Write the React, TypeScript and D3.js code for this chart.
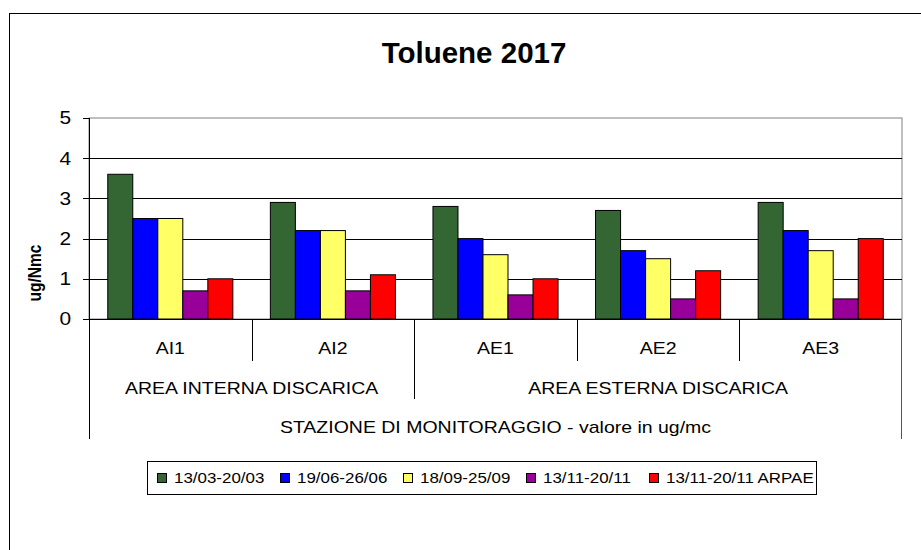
import React from "react";
import * as d3 from "d3";

const stations = ["AI1", "AI2", "AE1", "AE2", "AE3"];
const areas = [
  { label: "AREA INTERNA DISCARICA", from: 0, to: 2 },
  { label: "AREA ESTERNA DISCARICA", from: 2, to: 5 },
];
const seriesNames = ["13/03-20/03", "19/06-26/06", "18/09-25/09", "13/11-20/11", "13/11-20/11 ARPAE"];
const seriesColors = ["#336633", "#0000FF", "#FFFF66", "#990099", "#FF0000"];
const s1 = [3.6, 2.9, 2.8, 2.7, 2.9];
const s2 = [2.5, 2.2, 2.0, 1.7, 2.2];
const s3 = [2.5, 2.2, 1.6, 1.5, 1.7];
const s4 = [0.7, 0.7, 0.6, 0.5, 0.5];
const s5 = [1.0, 1.1, 1.0, 1.2, 2.0];
const seriesValues = [s1, s2, s3, s4, s5];
const yTicks = [0, 1, 2, 3, 4, 5];
const title = "Toluene 2017";
const yTitle = "ug/Nmc";
const xTitle = "STAZIONE DI MONITORAGGIO - valore in ug/mc";

const FONT = "'Liberation Sans', Arial, sans-serif";
const SX = 1.16;

export default function App() {
  const W = 921, H = 550;
  const left = 89, right = 902, top = 118, bottom = 319;
  const x = d3.scaleBand<number>().domain(d3.range(stations.length)).range([left, right]).padding(0);
  const bw = x.bandwidth();
  const barW = bw / (seriesNames.length + 1.5);
  const inner = d3.scaleBand<number>().domain(d3.range(seriesNames.length))
    .range([barW * 0.75, bw - barW * 0.75]).padding(0);
  const y = d3.scaleLinear().domain([0, 5]).range([bottom, top]);

  const stretchText = (tx: number, ty: number, txt: string, size: number, anchor: string, key?: string, extra: any = {}) => (
    <text key={key} transform={`translate(${tx},${ty}) scale(${SX},1)`} textAnchor={anchor}
      fontSize={size} fontFamily={FONT} fill="#000" {...extra}>{txt}</text>
  );

  const boundaries = d3.range(1, stations.length).map(i => x(i) as number);
  const areaBreaks = areas.slice(1).map(a => a.from);

  return (
    <svg width={W} height={H} style={{ position: "absolute", left: 0, top: 0, background: "#fff" }}>
      <rect x={0} y={0} width={W} height={H} fill="#fff" />
      <rect x={9.5} y={13.5} width={940} height={560} fill="none" stroke="#000" strokeWidth={1} />
      <text x={474} y={63} textAnchor="middle" fontFamily={FONT} fontWeight="bold" fontSize={29.5}>{title}</text>

      {/* plot area border */}
      <rect x={left} y={top} width={right - left} height={bottom - top} fill="none" stroke="#808080" strokeWidth={1} />
      {/* gridlines */}
      {yTicks.filter(t => t > 0 && t < 5).map(t => (
        <line key={"g" + t} x1={left} x2={right} y1={Math.round(y(t)) + 0.5} y2={Math.round(y(t)) + 0.5} stroke="#000" strokeWidth={1} />
      ))}

      {/* bars */}
      {stations.map((st, ci) => (
        <g key={st}>
          {seriesValues.map((vals, si) => {
            const bx = (x(ci) as number) + (inner(si) as number);
            return (
              <rect key={si} x={bx} y={y(vals[ci])} width={inner.bandwidth()} height={y(0) - y(vals[ci])}
                fill={seriesColors[si]} stroke="#000" strokeWidth={1} />
            );
          })}
        </g>
      ))}

      {/* y axis */}
      <line x1={left + 0.5} x2={left + 0.5} y1={top} y2={439} stroke="#000" />
      {yTicks.map(t => (
        <g key={"t" + t}>
          <line x1={83} x2={left} y1={Math.round(y(t)) + 0.5} y2={Math.round(y(t)) + 0.5} stroke="#000" />
          {stretchText(71, y(t), String(t), 18, "end", undefined, { dominantBaseline: "central" })}
        </g>
      ))}
      <text transform={`translate(35,273) rotate(-90) scale(1,${SX})`} textAnchor="middle" dominantBaseline="central"
        fontFamily={FONT} fontWeight="bold" fontSize={15.5}>{yTitle}</text>

      {/* category axis */}
      <line x1={left} x2={right} y1={bottom + 0.5} y2={bottom + 0.5} stroke="#000" />
      <line x1={right - 0.5} x2={right - 0.5} y1={bottom} y2={439} stroke="#555" />
      {boundaries.map((bx, i) => {
        const isArea = areaBreaks.includes(i + 1);
        return <line key={"b" + i} x1={Math.round(bx) + 0.5} x2={Math.round(bx) + 0.5} y1={bottom} y2={isArea ? 399 : 361} stroke="#000" />;
      })}
      {stations.map((st, ci) => stretchText((x(ci) as number) + bw / 2, 354, st, 16.8, "middle", "s" + ci))}
      {areas.map((a, i) => stretchText(((x(a.from) as number) + (a.to < stations.length ? (x(a.to) as number) : right)) / 2, 394, a.label, 16.8, "middle", "a" + i))}
      {stretchText((left + right) / 2, 433, xTitle, 16.8, "middle", "xt")}

      {/* legend */}
      <rect x={147.5} y={461.5} width={669} height={33} fill="#fff" stroke="#000" />
      {seriesNames.map((n, i) => {
        const lx = 157 + i * 123;
        return (
          <g key={"l" + i}>
            <rect x={lx + 0.5} y={473.5} width={9} height={9} fill={seriesColors[i]} stroke="#000" />
            {stretchText(lx + 17, 483, n, 14.6, "start")}
          </g>
        );
      })}
    </svg>
  );
}
